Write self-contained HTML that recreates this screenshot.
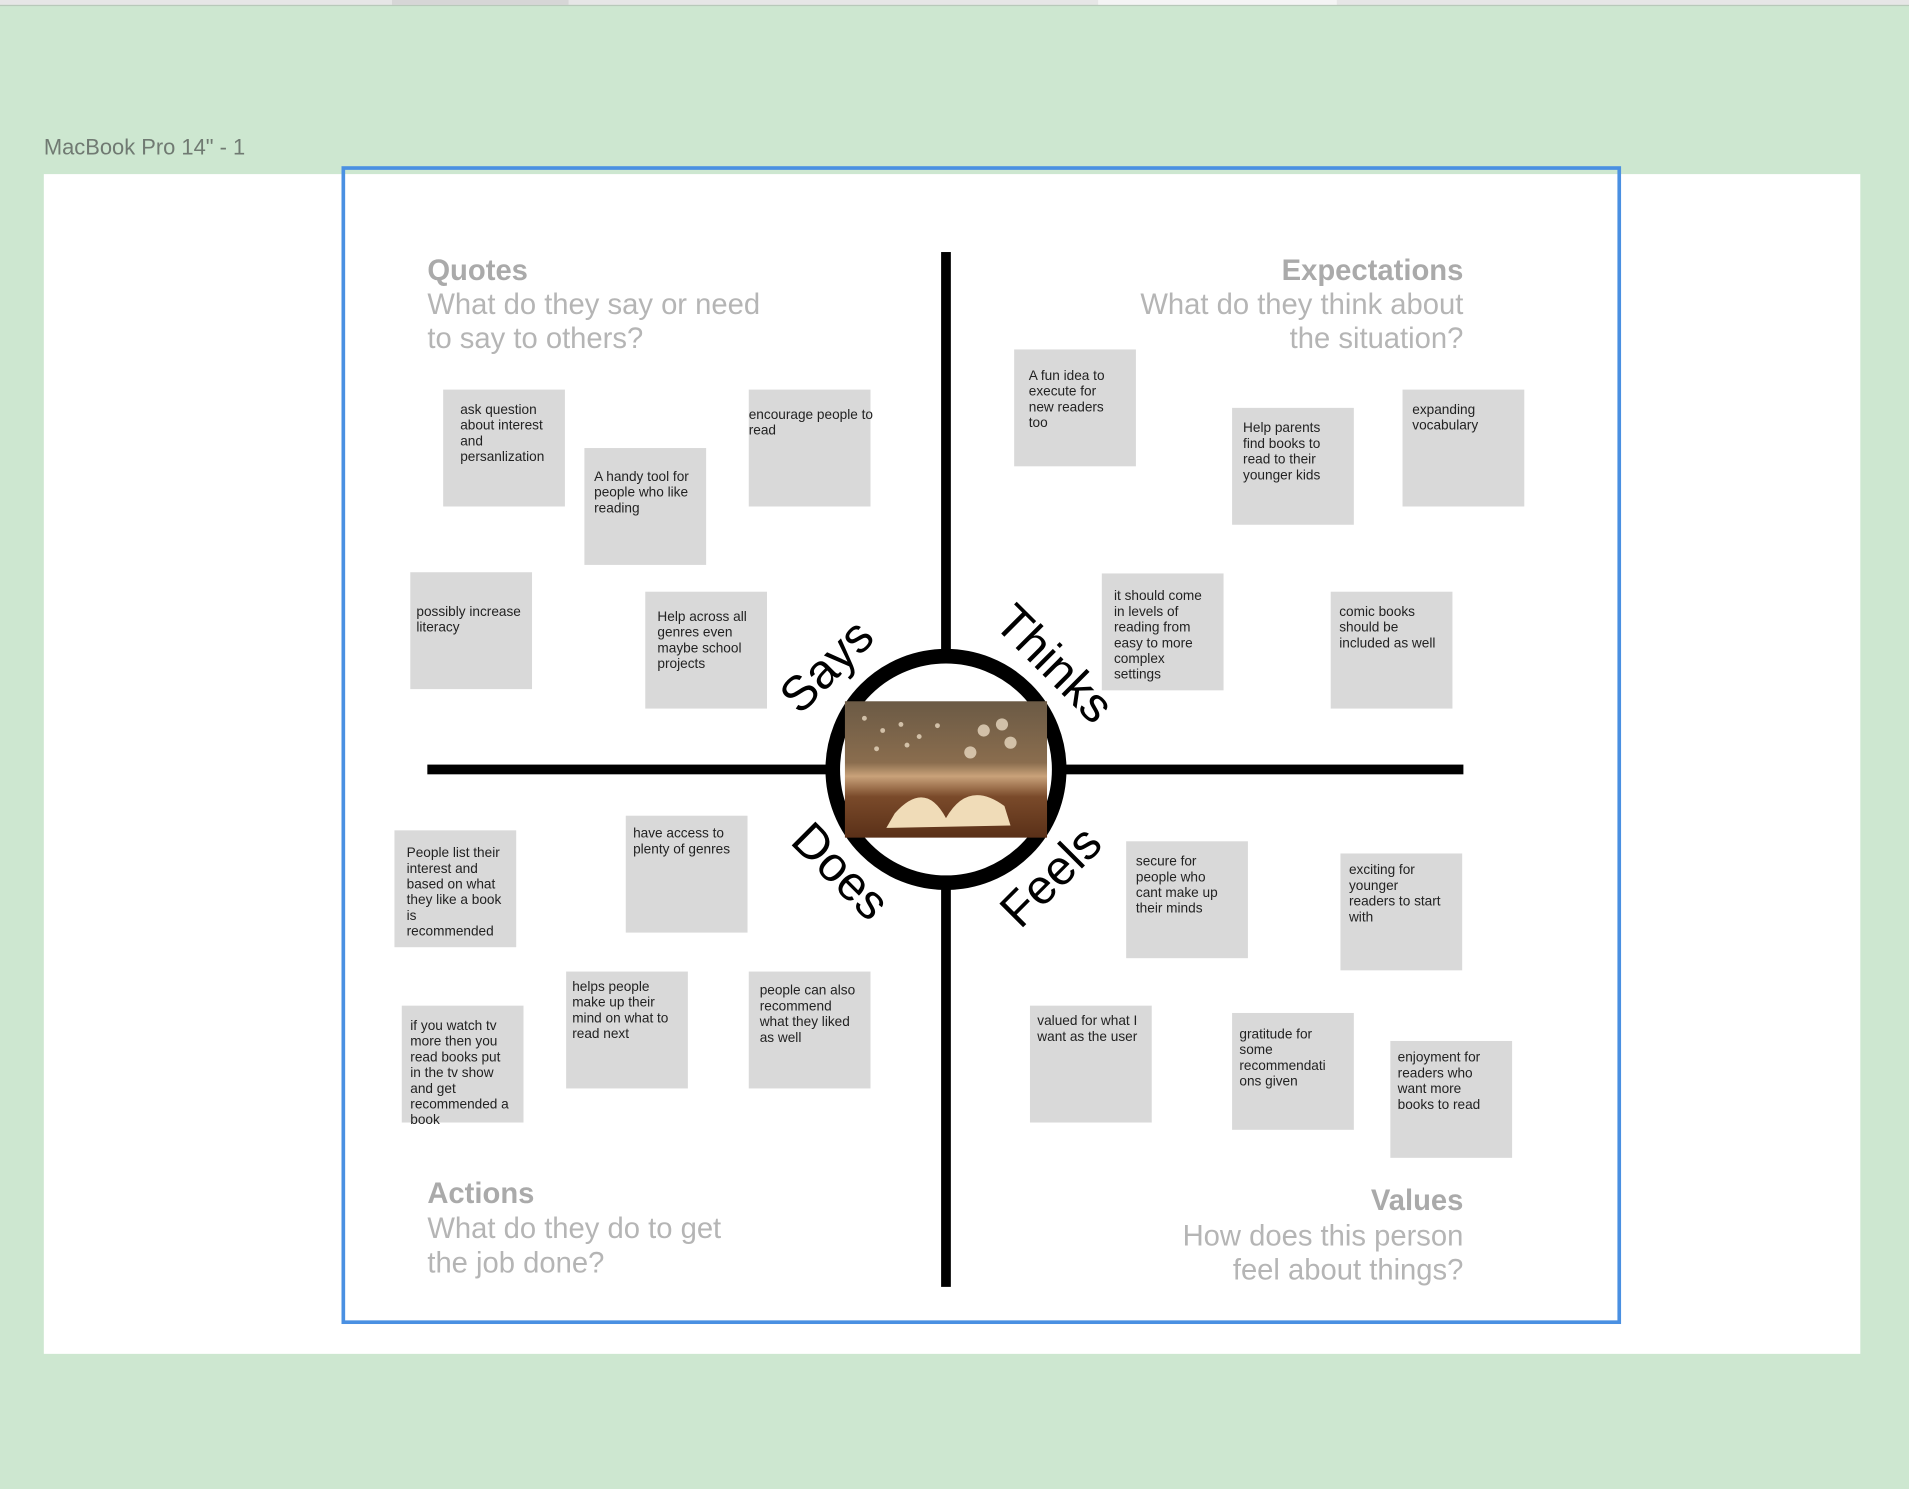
<!DOCTYPE html>
<html><head><meta charset="utf-8"><style>html,body{margin:0;padding:0;background:#cde7d0;overflow:hidden}svg{display:block}
.n{fill:#d9d9d9}.t{font-family:"Liberation Sans",sans-serif;font-size:11.2px;fill:#222}
.h{font-family:"Liberation Sans",sans-serif;font-size:24px;font-weight:bold;fill:#aaa}
.s{font-family:"Liberation Sans",sans-serif;font-size:24px;fill:#b5b5b5}
.b{font-family:"Liberation Sans",sans-serif;font-size:40px;fill:#000}
</style></head><body>
<svg width="1909" height="1489" viewBox="0 0 1568 1223" xmlns="http://www.w3.org/2000/svg">
<defs>
<linearGradient id="g" x1="0" y1="0" x2="0" y2="1">
<stop offset="0" stop-color="#6b5a45"/><stop offset="0.45" stop-color="#8a6d4e"/><stop offset="0.55" stop-color="#c9a27a"/><stop offset="0.7" stop-color="#7a4a2a"/><stop offset="1" stop-color="#5a3018"/></linearGradient>
</defs>
<rect width="1568" height="1223" fill="#cde7d0"/>
<rect x="0" y="0" width="1568" height="4" fill="#e6e6e6"/>
<rect x="322" y="0" width="145" height="4" fill="#d6d6d6"/>
<rect x="902" y="0" width="196" height="4" fill="#f4f4f4"/>
<rect x="0" y="4" width="1568" height="1" fill="#b8c9ba"/>
<text x="36" y="127" font-family="Liberation Sans,sans-serif" font-size="18" fill="#707a72">MacBook Pro 14" - 1</text>
<rect x="36" y="143" width="1492" height="969" fill="#fff"/>
<rect x="282" y="138" width="1048" height="948" fill="none" stroke="#4a90e2" stroke-width="3"/>

<text class="h" x="351" y="230">Quotes</text>
<text class="s" x="351" y="258">What do they say or need</text>
<text class="s" x="351" y="286">to say to others?</text>
<text class="h" x="1202" y="230" text-anchor="end">Expectations</text>
<text class="s" x="1202" y="258" text-anchor="end">What do they think about</text>
<text class="s" x="1202" y="286" text-anchor="end">the situation?</text>
<text class="h" x="351" y="988">Actions</text>
<text class="s" x="351" y="1017">What do they do to get</text>
<text class="s" x="351" y="1045">the job done?</text>
<text class="h" x="1202" y="994" text-anchor="end">Values</text>
<text class="s" x="1202" y="1023" text-anchor="end">How does this person</text>
<text class="s" x="1202" y="1051" text-anchor="end">feel about things?</text>

<rect x="773" y="207" width="8" height="850" fill="#000"/>
<rect x="351" y="628" width="851" height="8" fill="#000"/>
<circle cx="777" cy="632" r="93" fill="#fff" stroke="#000" stroke-width="12"/>
<rect x="694" y="576" width="166" height="112" fill="url(#g)"/>
<path d="M735 668 Q760 640 777 672 Q795 640 825 662 L830 678 L728 680 Z" fill="#f0dcb8"/>
<g fill="#e8d8c0" opacity="0.8"><circle cx="710" cy="590" r="2"/><circle cx="725" cy="600" r="2"/><circle cx="740" cy="595" r="2"/><circle cx="755" cy="605" r="2"/><circle cx="720" cy="615" r="2"/><circle cx="745" cy="612" r="2"/><circle cx="770" cy="596" r="2"/><circle cx="808" cy="600" r="5"/><circle cx="823" cy="595" r="5"/><circle cx="830" cy="610" r="5"/><circle cx="797" cy="618" r="5"/></g>

<text class="b" transform="translate(657,588) rotate(-45)">Says</text>
<text class="b" transform="translate(815,513) rotate(45)">Thinks</text>
<text class="b" transform="translate(648,692) rotate(45)">Does</text>
<text class="b" transform="translate(838,764) rotate(-45)">Feels</text>

<g>
<rect class="n" x="364" y="320" width="100" height="96"/>
<text class="t" x="378" y="340"><tspan x="378">ask question</tspan><tspan x="378" dy="12.9">about interest</tspan><tspan x="378" dy="12.9">and</tspan><tspan x="378" dy="12.9">persanlization</tspan></text>
<rect class="n" x="480" y="368" width="100" height="96"/>
<text class="t" x="488" y="395"><tspan x="488">A handy tool for</tspan><tspan x="488" dy="12.9">people who like</tspan><tspan x="488" dy="12.9">reading</tspan></text>
<rect class="n" x="615" y="320" width="100" height="96"/>
<text class="t" x="615" y="344"><tspan x="615">encourage people to</tspan><tspan x="615" dy="12.9">read</tspan></text>
<rect class="n" x="337" y="470" width="100" height="96"/>
<text class="t" x="342" y="506"><tspan x="342">possibly increase</tspan><tspan x="342" dy="12.9">literacy</tspan></text>
<rect class="n" x="530" y="486" width="100" height="96"/>
<text class="t" x="540" y="510"><tspan x="540">Help across all</tspan><tspan x="540" dy="12.9">genres even</tspan><tspan x="540" dy="12.9">maybe school</tspan><tspan x="540" dy="12.9">projects</tspan></text>

<rect class="n" x="833" y="287" width="100" height="96"/>
<text class="t" x="845" y="312"><tspan x="845">A fun idea to</tspan><tspan x="845" dy="12.9">execute for</tspan><tspan x="845" dy="12.9">new readers</tspan><tspan x="845" dy="12.9">too</tspan></text>
<rect class="n" x="1012" y="335" width="100" height="96"/>
<text class="t" x="1021" y="355"><tspan x="1021">Help parents</tspan><tspan x="1021" dy="12.9">find books to</tspan><tspan x="1021" dy="12.9">read to their</tspan><tspan x="1021" dy="12.9">younger kids</tspan></text>
<rect class="n" x="1152" y="320" width="100" height="96"/>
<text class="t" x="1160" y="340"><tspan x="1160">expanding</tspan><tspan x="1160" dy="12.9">vocabulary</tspan></text>
<rect class="n" x="905" y="471" width="100" height="96"/>
<text class="t" x="915" y="493"><tspan x="915">it should come</tspan><tspan x="915" dy="12.9">in levels of</tspan><tspan x="915" dy="12.9">reading from</tspan><tspan x="915" dy="12.9">easy to more</tspan><tspan x="915" dy="12.9">complex</tspan><tspan x="915" dy="12.9">settings</tspan></text>
<rect class="n" x="1093" y="486" width="100" height="96"/>
<text class="t" x="1100" y="506"><tspan x="1100">comic books</tspan><tspan x="1100" dy="12.9">should be</tspan><tspan x="1100" dy="12.9">included as well</tspan></text>

<rect class="n" x="324" y="682" width="100" height="96"/>
<text class="t" x="334" y="704"><tspan x="334">People list their</tspan><tspan x="334" dy="12.9">interest and</tspan><tspan x="334" dy="12.9">based on what</tspan><tspan x="334" dy="12.9">they like a book</tspan><tspan x="334" dy="12.9">is</tspan><tspan x="334" dy="12.9">recommended</tspan></text>
<rect class="n" x="514" y="670" width="100" height="96"/>
<text class="t" x="520" y="688"><tspan x="520">have access to</tspan><tspan x="520" dy="12.9">plenty of genres</tspan></text>
<rect class="n" x="330" y="826" width="100" height="96"/>
<text class="t" x="337" y="846"><tspan x="337">if you watch tv</tspan><tspan x="337" dy="12.9">more then you</tspan><tspan x="337" dy="12.9">read books put</tspan><tspan x="337" dy="12.9">in the tv show</tspan><tspan x="337" dy="12.9">and get</tspan><tspan x="337" dy="12.9">recommended a</tspan><tspan x="337" dy="12.9">book</tspan></text>
<rect class="n" x="465" y="798" width="100" height="96"/>
<text class="t" x="470" y="814"><tspan x="470">helps people</tspan><tspan x="470" dy="12.9">make up their</tspan><tspan x="470" dy="12.9">mind on what to</tspan><tspan x="470" dy="12.9">read next</tspan></text>
<rect class="n" x="615" y="798" width="100" height="96"/>
<text class="t" x="624" y="817"><tspan x="624">people can also</tspan><tspan x="624" dy="12.9">recommend</tspan><tspan x="624" dy="12.9">what they liked</tspan><tspan x="624" dy="12.9">as well</tspan></text>

<rect class="n" x="925" y="691" width="100" height="96"/>
<text class="t" x="933" y="711"><tspan x="933">secure for</tspan><tspan x="933" dy="12.9">people who</tspan><tspan x="933" dy="12.9">cant make up</tspan><tspan x="933" dy="12.9">their minds</tspan></text>
<rect class="n" x="1101" y="701" width="100" height="96"/>
<text class="t" x="1108" y="718"><tspan x="1108">exciting for</tspan><tspan x="1108" dy="12.9">younger</tspan><tspan x="1108" dy="12.9">readers to start</tspan><tspan x="1108" dy="12.9">with</tspan></text>
<rect class="n" x="846" y="826" width="100" height="96"/>
<text class="t" x="852" y="842"><tspan x="852">valued for what I</tspan><tspan x="852" dy="12.9">want as the user</tspan></text>
<rect class="n" x="1012" y="832" width="100" height="96"/>
<text class="t" x="1018" y="853"><tspan x="1018">gratitude for</tspan><tspan x="1018" dy="12.9">some</tspan><tspan x="1018" dy="12.9">recommendati</tspan><tspan x="1018" dy="12.9">ons given</tspan></text>
<rect class="n" x="1142" y="855" width="100" height="96"/>
<text class="t" x="1148" y="872"><tspan x="1148">enjoyment for</tspan><tspan x="1148" dy="12.9">readers who</tspan><tspan x="1148" dy="12.9">want more</tspan><tspan x="1148" dy="12.9">books to read</tspan></text>
</g>
</svg>
</body></html>
